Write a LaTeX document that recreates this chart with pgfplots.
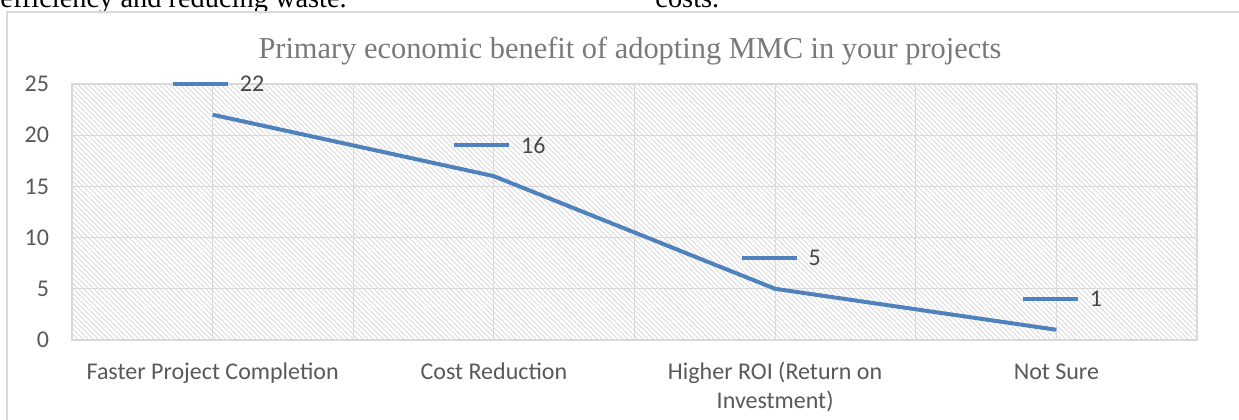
\documentclass[border=0pt]{standalone}
\usepackage{fontspec}
\setmainfont{Carlito}
\newfontfamily\titlefont{Liberation Serif}
\usepackage{pgfplots}
\pgfplotsset{compat=1.18}
\usetikzlibrary{patterns.meta}
\definecolor{mmcblue}{RGB}{79,129,189}
\definecolor{ticktext}{RGB}{89,89,89}
\definecolor{gridc}{RGB}{217,217,217}
\begin{document}
\begin{tikzpicture}
\clip (0,0) rectangle (619.5pt,209.5pt);
% cut-off body text above the chart
\node[anchor=base west, inner sep=0pt, font=\titlefont\fontsize{14.2}{16}\selectfont] at (0pt,205.5pt) {efficiency and reducing waste.};
\node[anchor=base west, inner sep=0pt, font=\titlefont\fontsize{14.2}{16}\selectfont] at (327.5pt,205.5pt) {costs.};
% chart frame
\draw[gridc, line width=0.7pt] (3.5pt,-10pt) |- (640pt,203.5pt);
% title
\node[anchor=base, inner sep=0pt, text=gray!95!black, font=\titlefont\fontsize{15.2}{18}\selectfont] at (315pt,180pt) {Primary economic benefit of adopting MMC in your projects};
\begin{axis}[
  at={(36pt,39.5pt)}, anchor=south west,
  scale only axis, width=562.5pt, height=128pt,
  xmin=-0.5, xmax=3.5, ymin=0, ymax=25,
  xtick={0,1,2,3},
  xticklabels={\strut Faster Project Completion, \strut Cost Reduction, {\strut Higher ROI (Return on\\Investment)}, \strut Not Sure},
  minor xtick={-0.5,0.5,1.5,2.5,3.5},
  ytick={0,5,10,15,20,25},
  grid=both,
  major grid style={gridc, line width=0.6pt},
  minor grid style={gridc, line width=0.6pt},
  major tick length=0pt, minor tick length=0pt,
  axis line style={gridc, line width=0.7pt},
  axis background/.style={pattern={Lines[angle=-45,distance=1.8pt,line width=0.45pt]}, pattern color=gray!30},
  tick label style={font=\fontsize{12}{14.5}\selectfont, text=ticktext},
  xticklabel style={align=center, yshift=-6pt},
  yticklabel style={xshift=-8pt},
  /pgf/number format/assume math mode=true,
  nodes near coords={\tikz[baseline={(0pt,-3.9pt)}]\draw[line width=2pt, mmcblue] (0,0)--(27.5pt,0);\hspace{5pt}\pgfmathprintnumber{\pgfplotspointmeta}},
  every node near coord/.append style={anchor=center, yshift=15.5pt, xshift=2.5pt, inner sep=0pt, font=\fontsize{12}{14}\selectfont, text=ticktext!80!black},
]
\addplot[mmcblue, line width=2pt, mark=none, line join=round] coordinates {(0,22) (1,16) (2,5) (3,1)};
\end{axis}
\end{tikzpicture}
\end{document}
